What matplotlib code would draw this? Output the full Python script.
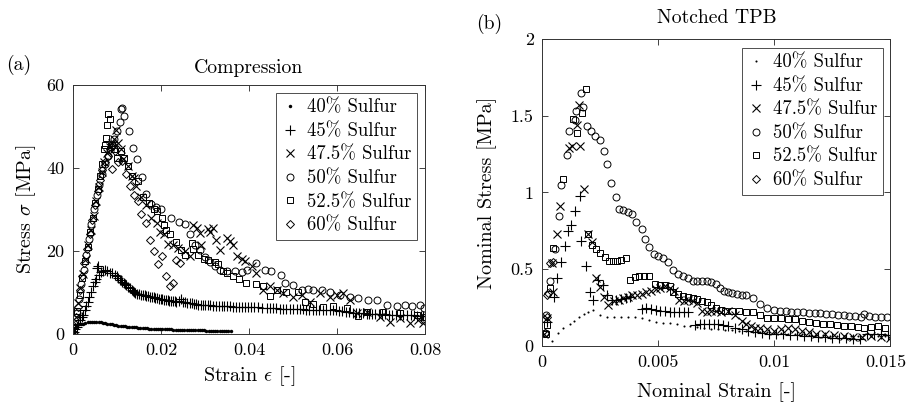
import matplotlib
matplotlib.use("Agg")
import matplotlib.pyplot as plt
import matplotlib.transforms as mtransforms

plt.rcParams['font.family'] = ['cmr10', 'DejaVu Serif']
plt.rcParams['mathtext.fontset'] = 'cm'
plt.rcParams['axes.unicode_minus'] = False
plt.rcParams['font.size'] = 14

# =========================
# data: (strain, stress)
# =========================
labels = ['40% Sulfur', '45% Sulfur', '47.5% Sulfur', '50% Sulfur', '52.5% Sulfur', '60% Sulfur']

# (a) compression
comp_40 = [(0.0003, 1.5), (0.0008, 2.0), (0.0013, 2.3), (0.0018, 2.3), (0.0023, 2.4), (0.0028, 2.6),
           (0.0033, 2.8), (0.0038, 2.9), (0.0043, 3.0), (0.0048, 3.0), (0.0053, 2.9), (0.0058, 2.9),
           (0.0063, 2.8), (0.0068, 2.7), (0.0073, 2.6), (0.0078, 2.5), (0.0083, 2.4), (0.0088, 2.3),
           (0.0093, 2.2), (0.0098, 2.1), (0.0103, 2.0), (0.0108, 2.0), (0.0113, 1.9), (0.0118, 1.85),
           (0.0123, 1.8), (0.0128, 1.75), (0.0133, 1.7), (0.0138, 1.65), (0.0143, 1.6), (0.0148, 1.55),
           (0.0153, 1.5), (0.0158, 1.45), (0.0163, 1.4), (0.0168, 1.35), (0.0173, 1.3), (0.0178, 1.3),
           (0.0183, 1.25), (0.0188, 1.2), (0.0193, 1.2), (0.0198, 1.25), (0.0203, 1.2), (0.0208, 1.15),
           (0.0213, 1.1), (0.0218, 1.1), (0.0223, 1.1), (0.0228, 1.05), (0.0233, 1.0), (0.0238, 1.0),
           (0.0243, 1.0), (0.0248, 0.95), (0.0253, 0.95), (0.0258, 0.95), (0.0263, 0.9), (0.0268, 0.9),
           (0.0273, 0.9), (0.0278, 0.9), (0.0283, 0.85), (0.0288, 0.85), (0.0293, 0.85), (0.0298, 0.85),
           (0.0303, 0.8), (0.0308, 0.8), (0.0313, 0.8), (0.0318, 0.8), (0.0323, 0.8), (0.0328, 0.8),
           (0.0333, 0.8), (0.0338, 0.8), (0.0343, 0.8), (0.0348, 0.75), (0.0353, 0.75), (0.0358, 0.75)]

comp_45 = [(0.0002, 0.5), (0.0005, 1.2), (0.0008, 1.8), (0.0012, 2.5), (0.0016, 3.3), (0.002, 4.0),
           (0.0023, 4.5), (0.0027, 5.8), (0.003, 6.8), (0.0034, 7.8), (0.0037, 8.8), (0.0041, 10.0),
           (0.0045, 11.5), (0.0049, 12.5), (0.0053, 13.2), (0.0055, 15.9), (0.0056, 16.5), (0.0059, 14.3),
           (0.0063, 15.0), (0.0068, 15.2), (0.0072, 15.3), (0.0077, 15.1), (0.0083, 14.8), (0.0088, 14.6),
           (0.0095, 14.3), (0.0099, 13.9), (0.0103, 13.5), (0.0106, 13.1), (0.0109, 12.9), (0.0112, 12.6),
           (0.0115, 12.4), (0.0118, 12.1), (0.0121, 11.8), (0.0125, 11.4), (0.0129, 11.0), (0.0133, 10.6),
           (0.0136, 10.3), (0.0139, 10.1), (0.0142, 9.9), (0.0146, 9.7), (0.015, 9.6), (0.0155, 9.5),
           (0.0159, 9.4), (0.0163, 9.3), (0.0167, 9.2), (0.0171, 9.1), (0.0175, 9.0), (0.0179, 8.9),
           (0.0183, 8.8), (0.0187, 8.7), (0.0191, 8.6), (0.0195, 8.5), (0.0199, 8.4), (0.0203, 8.35),
           (0.0207, 8.3), (0.0211, 8.2), (0.0215, 8.1), (0.0219, 8.0), (0.0223, 8.0), (0.0227, 7.9),
           (0.0231, 7.85), (0.0235, 7.8), (0.024, 7.9), (0.0246, 8.4), (0.025, 7.8), (0.0255, 7.7),
           (0.026, 7.55), (0.0265, 7.4), (0.027, 7.35), (0.0275, 7.3), (0.028, 7.2), (0.0285, 7.1),
           (0.029, 7.0), (0.0295, 7.0), (0.03, 7.0), (0.0306, 6.95), (0.0312, 6.9), (0.0318, 6.85),
           (0.0325, 6.8), (0.0331, 6.8), (0.0338, 6.8), (0.0344, 6.75), (0.035, 6.7), (0.0357, 6.65),
           (0.0364, 6.6), (0.0371, 6.55), (0.0378, 6.5), (0.0384, 6.5), (0.039, 6.5), (0.0397, 6.45),
           (0.0405, 6.4), (0.0412, 6.4), (0.042, 6.4), (0.043, 6.3), (0.044, 6.2), (0.0447, 6.2),
           (0.0455, 6.2), (0.0462, 6.15), (0.047, 6.1), (0.0477, 6.1), (0.0485, 6.1), (0.0492, 6.05),
           (0.05, 6.0), (0.0508, 6.0), (0.0516, 6.0), (0.0523, 5.95), (0.053, 5.9), (0.0537, 5.9),
           (0.0545, 5.9), (0.0552, 5.9), (0.056, 5.9), (0.0567, 5.85), (0.0575, 5.8), (0.0583, 5.8),
           (0.0591, 5.8), (0.0598, 5.7), (0.0605, 5.6), (0.0612, 5.5), (0.062, 5.4), (0.0628, 5.2),
           (0.0637, 5.0), (0.0643, 5.05), (0.065, 5.1), (0.0658, 4.95), (0.0667, 4.8), (0.0673, 4.85),
           (0.068, 4.9), (0.0687, 4.8), (0.0695, 4.7), (0.0702, 4.7), (0.071, 4.7), (0.0717, 4.65),
           (0.0725, 4.6), (0.0734, 4.6), (0.0743, 4.6), (0.0751, 4.55), (0.076, 4.5), (0.0767, 4.5),
           (0.0775, 4.5), (0.0782, 4.45), (0.079, 4.4), (0.0795, 4.4), (0.08, 4.4)]

comp_475 = [(0.0002, 1.0), (0.0007, 4.0), (0.0012, 7.5), (0.0017, 11.0), (0.0023, 14.5), (0.0029, 18.0),
            (0.0035, 21.5), (0.0041, 25.0), (0.0047, 28.5), (0.0053, 32.0), (0.0059, 35.5), (0.0065, 39.0),
            (0.0071, 41.5), (0.0077, 43.5), (0.0083, 45.0), (0.0089, 46.0), (0.0094, 47.0), (0.0097, 49.1),
            (0.0103, 46.0), (0.0108, 44.5), (0.0114, 42.1), (0.0124, 40.5), (0.0133, 38.1), (0.0138, 37.5),
            (0.0144, 35.6), (0.0155, 33.0), (0.0166, 31.0), (0.0178, 28.0), (0.019, 26.8), (0.0197, 24.5),
            (0.0206, 24.0), (0.0216, 21.8), (0.0227, 21.5), (0.0239, 20.7), (0.0254, 19.9), (0.0265, 18.9),
            (0.0273, 26.2), (0.0281, 25.6), (0.0288, 24.4), (0.0292, 21.5), (0.0307, 25.2), (0.0312, 24.5),
            (0.0318, 25.6), (0.0326, 22.6), (0.0335, 20.2), (0.0349, 23.1), (0.0356, 22.3), (0.0364, 21.5),
            (0.0372, 18.7), (0.0383, 18.1), (0.039, 17.7), (0.0406, 16.5), (0.0417, 14.7), (0.0432, 10.6),
            (0.0447, 11.5), (0.0463, 10.6), (0.0478, 9.8), (0.05, 9.0), (0.052, 9.4), (0.0538, 7.6),
            (0.0561, 9.8), (0.0584, 9.0), (0.0599, 9.4), (0.0614, 9.8), (0.063, 8.2), (0.0645, 5.0),
            (0.0667, 5.2), (0.0698, 4.2), (0.072, 3.0), (0.0743, 3.8), (0.0766, 2.6), (0.0785, 3.4),
            (0.0796, 2.6)]

comp_50 = [(0.0003, 2.5), (0.0008, 5.0), (0.0013, 8.5), (0.0018, 12.0), (0.0024, 15.5), (0.003, 19.0),
           (0.0036, 23.0), (0.0042, 26.5), (0.0048, 30.0), (0.0054, 33.5), (0.006, 36.0), (0.0066, 38.5),
           (0.0072, 41.0), (0.0079, 43.0), (0.0086, 45.0), (0.0093, 47.0), (0.0099, 49.0), (0.0106, 51.0),
           (0.0109, 54.2), (0.0112, 54.4), (0.0117, 52.6), (0.0127, 48.8), (0.0136, 44.9), (0.0146, 42.2),
           (0.0156, 37.8), (0.0166, 33.8), (0.0177, 31.4), (0.0189, 30.6), (0.0201, 30.2), (0.0222, 28.0),
           (0.0241, 27.0), (0.0255, 26.5), (0.0266, 24.0), (0.0277, 21.5), (0.0288, 20.3), (0.03, 18.5),
           (0.0312, 17.3), (0.0322, 16.5), (0.0333, 15.5), (0.035, 15.2), (0.0368, 15.1), (0.0383, 14.9),
           (0.0396, 15.5), (0.0417, 17.1), (0.0436, 15.5), (0.0451, 15.2), (0.0472, 14.3), (0.0482, 12.4),
           (0.05, 11.9), (0.052, 10.6), (0.0533, 10.8), (0.0546, 10.6), (0.0565, 10.6), (0.0584, 10.1),
           (0.0607, 9.4), (0.063, 8.9), (0.0648, 8.6), (0.0671, 8.2), (0.069, 8.2), (0.0713, 7.0),
           (0.0736, 6.8), (0.0755, 7.0), (0.077, 6.8), (0.0789, 6.9), (0.0797, 6.2)]

comp_525 = [(0.0003, 1.5), (0.0009, 5.5), (0.0015, 9.5), (0.0021, 13.5), (0.0027, 17.5), (0.0033, 21.0),
            (0.0039, 24.5), (0.0045, 28.0), (0.0051, 31.5), (0.0057, 35.0), (0.0062, 38.0), (0.0066, 41.0),
            (0.007, 44.5), (0.0073, 45.5), (0.0076, 47.2), (0.0077, 50.4), (0.008, 53.1), (0.0083, 51.9),
            (0.0088, 45.5), (0.0094, 44.5), (0.0101, 42.5), (0.0108, 44.0), (0.0115, 42.5), (0.0124, 40.5),
            (0.0133, 38.0), (0.0147, 36.9), (0.0159, 33.1), (0.0172, 31.5), (0.0184, 30.2), (0.019, 29.6),
            (0.0203, 28.0), (0.0207, 26.2), (0.0212, 25.0), (0.022, 24.0), (0.0235, 22.1), (0.0246, 20.3),
            (0.0255, 19.1), (0.0271, 21.9), (0.0273, 20.5), (0.0285, 19.0), (0.0297, 18.1), (0.0306, 17.9),
            (0.0322, 17.3), (0.033, 16.9), (0.034, 15.1), (0.0349, 14.7), (0.0364, 13.9), (0.0378, 13.2),
            (0.0394, 12.4), (0.0417, 12.1), (0.0432, 11.5), (0.0447, 9.2), (0.0463, 10.6), (0.0485, 10.2),
            (0.0512, 10.1), (0.0527, 7.6), (0.0546, 7.3), (0.0569, 6.6), (0.0591, 6.8), (0.0622, 6.2),
            (0.0648, 4.4), (0.0667, 5.4), (0.0705, 5.2), (0.0743, 5.0), (0.0781, 4.6), (0.08, 4.2)]

comp_60 = [(0.0002, 2.0), (0.0006, 4.0), (0.0011, 6.5), (0.0016, 10.5), (0.0021, 14.0), (0.0026, 17.0),
           (0.0032, 20.5), (0.0038, 24.0), (0.0044, 27.5), (0.005, 31.0), (0.0056, 34.5), (0.0061, 37.0),
           (0.0067, 39.5), (0.0073, 41.5), (0.0079, 43.0), (0.0085, 44.5), (0.0091, 45.5), (0.0096, 44.0),
           (0.0089, 39.7), (0.0103, 41.5), (0.0111, 41.7), (0.012, 38.5), (0.0129, 35.6), (0.0138, 33.6),
           (0.0148, 32.0), (0.0155, 28.8), (0.0165, 26.8), (0.0174, 22.7), (0.0184, 19.9), (0.0193, 16.9),
           (0.0203, 18.7), (0.0211, 13.9), (0.022, 11.5), (0.0227, 12.3), (0.0235, 17.9), (0.0243, 17.1)]

# (b) notched three-point bending
tpb_40 = [(0.00045, 0.03), (0.0007, 0.087), (0.0009, 0.12), (0.0012, 0.143), (0.0014, 0.165), (0.0016, 0.187),
          (0.0018, 0.206), (0.002, 0.223), (0.0022, 0.234), (0.0025, 0.2), (0.0028, 0.19), (0.0031, 0.188),
          (0.0034, 0.19), (0.0037, 0.19), (0.004, 0.19), (0.0043, 0.185), (0.0046, 0.17), (0.0049, 0.158),
          (0.0052, 0.152), (0.0055, 0.148), (0.0058, 0.14), (0.0061, 0.133), (0.0064, 0.128), (0.0067, 0.122),
          (0.007, 0.118), (0.0073, 0.113), (0.0076, 0.11), (0.0079, 0.106), (0.0082, 0.103), (0.0085, 0.1),
          (0.0088, 0.097), (0.0091, 0.094), (0.0094, 0.091), (0.0097, 0.088), (0.01, 0.085), (0.0103, 0.082),
          (0.0106, 0.08), (0.0109, 0.078), (0.0112, 0.075), (0.0115, 0.073), (0.0118, 0.071), (0.0121, 0.07),
          (0.0124, 0.068), (0.0127, 0.066), (0.013, 0.065), (0.0133, 0.064), (0.0136, 0.063), (0.0139, 0.07),
          (0.0142, 0.068), (0.0145, 0.065), (0.0148, 0.063)]

tpb_45 = [(0.0002, 0.156), (0.0005, 0.32), (0.00066, 0.44), (0.00083, 0.55), (0.00098, 0.65), (0.00112, 0.75),
          (0.00127, 0.79), (0.00144, 0.88), (0.00163, 0.98), (0.0017, 0.685), (0.0019, 0.52), (0.00207, 0.354),
          (0.0022, 0.3), (0.00243, 0.43), (0.00264, 0.397), (0.0028, 0.33), (0.003, 0.3), (0.0032, 0.3),
          (0.0034, 0.305), (0.0036, 0.31), (0.0038, 0.32), (0.0043, 0.24), (0.0045, 0.245), (0.0047, 0.24),
          (0.0049, 0.235), (0.0051, 0.23), (0.0053, 0.225), (0.0055, 0.22), (0.0057, 0.22), (0.0059, 0.22),
          (0.0061, 0.22), (0.0063, 0.22), (0.0066, 0.135), (0.0068, 0.14), (0.007, 0.145), (0.0072, 0.145),
          (0.0074, 0.145), (0.0076, 0.14), (0.0078, 0.135), (0.008, 0.13), (0.0083, 0.12), (0.0086, 0.11),
          (0.0089, 0.1), (0.0092, 0.09), (0.0095, 0.085), (0.0098, 0.08), (0.0101, 0.078), (0.0104, 0.075),
          (0.0107, 0.072), (0.011, 0.07), (0.0113, 0.066), (0.0116, 0.063), (0.0119, 0.06), (0.0122, 0.058),
          (0.0125, 0.055), (0.0128, 0.052), (0.0131, 0.05), (0.0134, 0.048), (0.0137, 0.045), (0.014, 0.075),
          (0.0143, 0.078), (0.0146, 0.075), (0.0149, 0.072)]

tpb_475 = [(0.0001, 0.08), (0.0002, 0.18), (0.00049, 0.354), (0.00042, 0.54), (0.00063, 0.73), (0.00076, 0.91),
           (0.00117, 1.29), (0.0013, 1.3), (0.00151, 1.44), (0.0016, 1.57), (0.00165, 1.3), (0.00181, 1.02),
           (0.002, 0.73), (0.00217, 0.68), (0.00234, 0.44), (0.00249, 0.385), (0.00266, 0.32), (0.00285, 0.265),
           (0.0031, 0.29), (0.0033, 0.3), (0.0035, 0.31), (0.0037, 0.32), (0.0039, 0.33), (0.0041, 0.335),
           (0.0043, 0.34), (0.0045, 0.35), (0.0047, 0.36), (0.0049, 0.37), (0.0051, 0.38), (0.0053, 0.39),
           (0.0055, 0.38), (0.0057, 0.36), (0.0059, 0.3), (0.0061, 0.29), (0.0063, 0.3), (0.0065, 0.29),
           (0.0067, 0.28), (0.0069, 0.23), (0.0071, 0.22), (0.0073, 0.225), (0.0075, 0.225), (0.0077, 0.22),
           (0.008, 0.225), (0.0083, 0.2), (0.0086, 0.16), (0.0088, 0.14), (0.009, 0.13), (0.0092, 0.12),
           (0.0094, 0.12), (0.0097, 0.11), (0.01, 0.1), (0.0103, 0.11), (0.0106, 0.12), (0.0109, 0.11),
           (0.0112, 0.1), (0.0115, 0.09), (0.0118, 0.08), (0.0122, 0.075), (0.0126, 0.07), (0.013, 0.065),
           (0.0134, 0.06), (0.0138, 0.06), (0.0142, 0.065), (0.0146, 0.06), (0.015, 0.055)]

tpb_50 = [(0.00014, 0.085), (0.00016, 0.2), (0.00033, 0.425), (0.00055, 0.63), (0.00075, 0.85), (0.00083, 1.05),
          (0.00106, 1.244), (0.00118, 1.4), (0.00141, 1.47), (0.00147, 1.53), (0.00167, 1.65), (0.00175, 1.56),
          (0.00196, 1.43), (0.0021, 1.4), (0.00227, 1.37), (0.00249, 1.34), (0.00266, 1.27), (0.00282, 1.185),
          (0.00299, 1.06), (0.00318, 0.97), (0.00332, 0.89), (0.0035, 0.885), (0.00371, 0.875), (0.0039, 0.857),
          (0.00407, 0.81), (0.00429, 0.76), (0.00446, 0.7), (0.00462, 0.645), (0.00482, 0.6), (0.005, 0.585),
          (0.00522, 0.576), (0.00544, 0.548), (0.00565, 0.498), (0.00587, 0.467), (0.00608, 0.454), (0.0063, 0.446),
          (0.00651, 0.424), (0.0067, 0.425), (0.0069, 0.425), (0.0071, 0.425), (0.0073, 0.42), (0.0075, 0.407),
          (0.00767, 0.378), (0.00785, 0.355), (0.008, 0.35), (0.0082, 0.345), (0.0084, 0.34), (0.0086, 0.335),
          (0.0088, 0.33), (0.0091, 0.31), (0.0094, 0.276), (0.0097, 0.25), (0.01, 0.232), (0.01025, 0.228),
          (0.0105, 0.225), (0.01075, 0.222), (0.011, 0.22), (0.01125, 0.22), (0.0115, 0.218), (0.01175, 0.215),
          (0.012, 0.213), (0.01225, 0.21), (0.0125, 0.208), (0.01275, 0.205), (0.013, 0.2), (0.01325, 0.198),
          (0.0135, 0.195), (0.01375, 0.19), (0.0139, 0.207), (0.0141, 0.195), (0.01435, 0.19), (0.0146, 0.19),
          (0.01485, 0.188)]

tpb_525 = [(0.00016, 0.08), (0.0002, 0.135), (0.00034, 0.38), (0.00049, 0.636), (0.00092, 1.086), (0.00135, 1.48),
           (0.00152, 1.385), (0.00171, 1.515), (0.00188, 1.675), (0.002, 0.73), (0.00217, 0.66), (0.00234, 0.635),
           (0.00252, 0.606), (0.0027, 0.58), (0.00288, 0.554), (0.00306, 0.554), (0.00323, 0.552), (0.00342, 0.563),
           (0.00364, 0.57), (0.00381, 0.428), (0.004, 0.45), (0.0042, 0.455), (0.0044, 0.455), (0.0046, 0.455),
           (0.00486, 0.407), (0.0051, 0.4), (0.0053, 0.395), (0.0055, 0.39), (0.00565, 0.352), (0.00587, 0.34),
           (0.00608, 0.324), (0.0063, 0.32), (0.0065, 0.31), (0.0067, 0.305), (0.0069, 0.295), (0.0071, 0.285),
           (0.0073, 0.27), (0.0075, 0.25), (0.0077, 0.235), (0.0079, 0.23), (0.0082, 0.225), (0.0085, 0.225),
           (0.0088, 0.22), (0.0091, 0.22), (0.0094, 0.2), (0.0097, 0.18), (0.01, 0.18), (0.0103, 0.18),
           (0.0106, 0.178), (0.0109, 0.175), (0.0112, 0.16), (0.0115, 0.155), (0.0118, 0.15), (0.0121, 0.145),
           (0.0124, 0.14), (0.0127, 0.135), (0.013, 0.13), (0.0133, 0.13), (0.0136, 0.125), (0.0139, 0.12),
           (0.0142, 0.125), (0.0145, 0.13), (0.0148, 0.115)]

tpb_60 = [(0.00013, 0.087), (0.0002, 0.19), (0.00027, 0.343), (0.00023, 0.33), (0.00034, 0.539), (0.00046, 0.55)]

comp_xticks = [0, 0.02, 0.04, 0.06, 0.08]
comp_xticklabels = ['0', '0.02', '0.04', '0.06', '0.08']
comp_yticks = [0, 20, 40, 60]
tpb_xticks = [0, 0.005, 0.01, 0.015]
tpb_xticklabels = ['0', '0.005', '0.01', '0.015']
tpb_yticks = [0, 0.5, 1, 1.5, 2]
tpb_yticklabels = ['0', '0.5', '1', '1.5', '2']

# marker style per series
styles = [
    dict(marker='.', markersize=5, mew=0),
    dict(marker='+', markersize=7, mew=0.8),
    dict(marker='x', markersize=5.5, mew=0.8),
    dict(marker='o', markersize=5, mew=0.7, mfc='none'),
    dict(marker='s', markersize=4.5, mew=0.7, mfc='none'),
    dict(marker='D', markersize=4, mew=0.7, mfc='none'),
]

# =========================
# figure
# =========================
fig = plt.figure(figsize=(9.08, 4.04), dpi=100)
ax1 = fig.add_axes([0.0804, 0.1733, 0.3877, 0.6163])
ax2 = fig.add_axes([0.5969, 0.1436, 0.3833, 0.7599])

comp_sets = [comp_40, comp_45, comp_475, comp_50, comp_525, comp_60]
tpb_sets = [tpb_40, tpb_45, tpb_475, tpb_50, tpb_525, tpb_60]

for data, lab, st in zip(comp_sets, labels, styles):
    xs, ys = zip(*data)
    ax1.plot(xs, ys, ls='none', color='black', mec='black', label=lab, **st)

for i, (data, lab, st) in enumerate(zip(tpb_sets, labels, styles)):
    xs, ys = zip(*data)
    st = dict(st)
    if i == 0:
        st['markersize'] = 3
    ax2.plot(xs, ys, ls='none', color='black', mec='black', label=lab, **st)

ax1.set_xlim(0, 0.08)
ax1.set_ylim(0, 60)
ax1.set_xticks(comp_xticks)
ax1.set_xticklabels(comp_xticklabels)
ax1.set_yticks(comp_yticks)
ax1.set_yticklabels([str(v) for v in comp_yticks])
ax1.set_xlabel(r'Strain $\epsilon$ [-]', labelpad=5, fontsize=14.5)
ax1.set_ylabel(r'Stress $\sigma$ [MPa]', labelpad=6, fontsize=14.5)

ax2.set_xlim(0, 0.015)
ax2.set_ylim(0, 2)
ax2.set_xticks(tpb_xticks)
ax2.set_xticklabels(tpb_xticklabels)
ax2.set_yticks(tpb_yticks)
ax2.set_yticklabels(tpb_yticklabels)
ax2.set_xlabel('Nominal Strain [-]', labelpad=9, fontsize=14.5)
ax2.set_ylabel('Nominal Stress [MPa]', labelpad=10, fontsize=14.5)

for ax in (ax1, ax2):
    ax.tick_params(direction='in', length=4, width=0.6, top=True, right=True,
                   colors='#222222', labelcolor='black', labelsize=13, pad=6)
    for sp in ax.spines.values():
        sp.set_linewidth(0.7)
        sp.set_color('#333333')

# last strain label sits a little left of its tick so it stays on the canvas
last = ax2.get_xticklabels()[-1]
last.set_transform(last.get_transform() +
                   mtransforms.ScaledTranslation(-4 / 100, 0, fig.dpi_scale_trans))

leg_kw = dict(loc='upper right', fontsize=13.5, frameon=True, fancybox=False,
              edgecolor='#222222', handlelength=0.9, handletextpad=0.45,
              borderpad=0.3, labelspacing=0.3, borderaxespad=0, numpoints=1)
l1 = ax1.legend(bbox_to_anchor=(0.4593, 0.7698), bbox_transform=fig.transFigure, **leg_kw)
l2 = ax2.legend(bbox_to_anchor=(0.9725, 0.8812), bbox_transform=fig.transFigure, **leg_kw)
for l in (l1, l2):
    l.get_frame().set_linewidth(0.7)

fig.text(0.274, 0.832, 'Compression', ha='center', va='center', fontsize=14.2)
fig.text(0.789, 0.955, 'Notched TPB', ha='center', va='center', fontsize=14.2)
fig.text(0.021, 0.839, '(a)', ha='center', va='center', fontsize=14.2)
fig.text(0.539, 0.94, '(b)', ha='center', va='center', fontsize=14.2)

fig.savefig('out.png', dpi=100)
